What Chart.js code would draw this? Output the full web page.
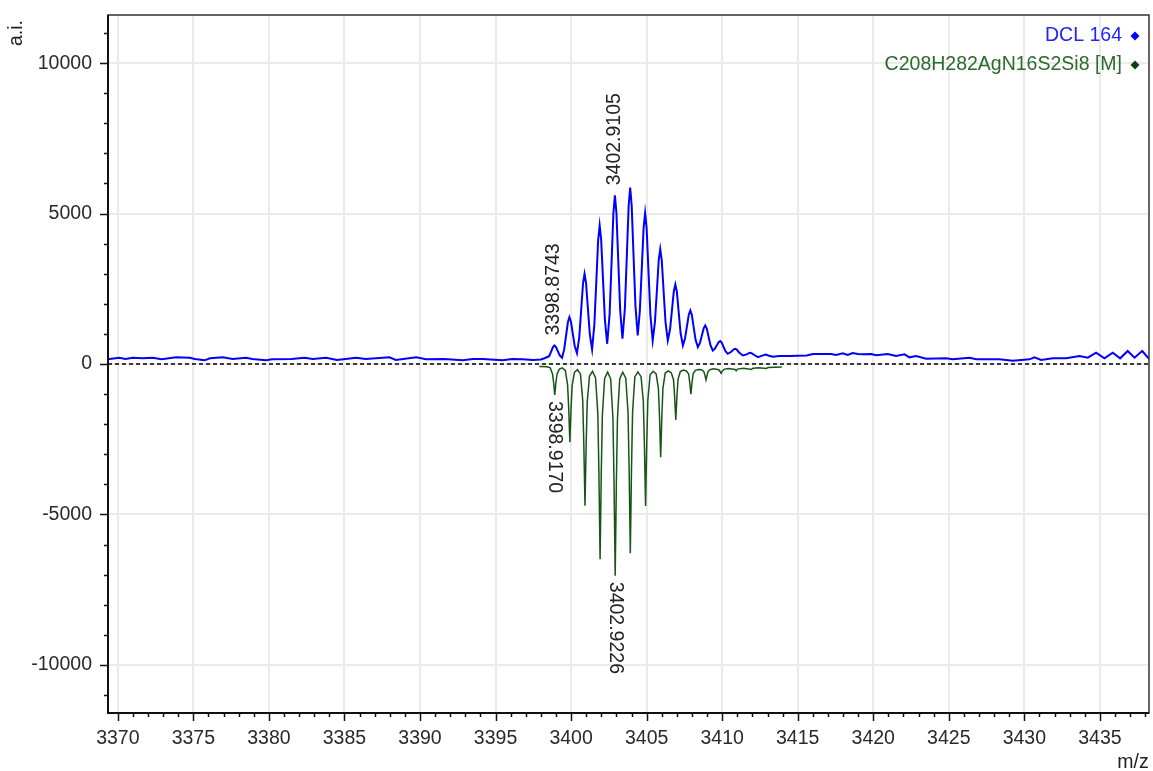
<!DOCTYPE html>
<html>
<head>
<meta charset="utf-8">
<script src="https://cdn.jsdelivr.net/npm/chart.js@4.4.1/dist/chart.umd.min.js"></script>
<style>
  html, body { margin: 0; padding: 0; background: #fff; }
  canvas { display: block; }
</style>
</head>
<body>
<canvas id="msChart" width="1153" height="771"></canvas>
<script>
// Axis ranges and tick labels
const xMin = 3369.35, xMax = 3438.25;
const yMin = -11600, yMax = 11600;
const xTicks = [3370, 3375, 3380, 3385, 3390, 3395, 3400, 3405, 3410, 3415, 3420, 3425, 3430, 3435];
const yTicks = [-10000, -5000, 0, 5000, 10000];

// Measured spectrum (DCL 164)
const blueMz = [
  3369.35, 3369.45, 3370.1, 3370.5, 3371.0, 3371.65, 3372.3, 3372.9, 3373.86, 3374.75,
  3375.1, 3375.74, 3376.1, 3376.95, 3377.6, 3378.5, 3378.9, 3379.82, 3380.2, 3381.5,
  3382.36, 3382.9, 3383.8, 3384.5, 3385.78, 3386.4, 3387.98, 3388.4, 3389.75, 3390.4,
  3391.6, 3392.83, 3393.5, 3394.15, 3395.48, 3396.1, 3396.8, 3397.46, 3398.0, 3398.24,
  3398.55, 3398.68, 3398.80, 3398.90, 3399.00, 3399.12, 3399.25, 3399.40,
  3399.54, 3399.67, 3399.79, 3399.89, 3399.99, 3400.11, 3400.24, 3400.39,
  3400.54, 3400.67, 3400.79, 3400.89, 3400.99, 3401.11, 3401.24, 3401.39,
  3401.54, 3401.67, 3401.79, 3401.89, 3401.99, 3402.11, 3402.24, 3402.39,
  3402.55, 3402.68, 3402.80, 3402.90, 3403.00, 3403.12, 3403.25, 3403.40,
  3403.56, 3403.69, 3403.81, 3403.91, 3404.01, 3404.13, 3404.26, 3404.41,
  3404.55, 3404.68, 3404.80, 3404.90, 3405.00, 3405.12, 3405.25, 3405.40,
  3405.55, 3405.68, 3405.80, 3405.90, 3406.00, 3406.12, 3406.25, 3406.40,
  3406.55, 3406.68, 3406.80, 3406.90, 3407.00, 3407.12, 3407.25, 3407.40,
  3407.54, 3407.67, 3407.79, 3407.89, 3407.99, 3408.11, 3408.24, 3408.39,
  3408.53, 3408.66, 3408.78, 3408.88, 3408.98, 3409.10, 3409.23, 3409.38,
  3409.52, 3409.65, 3409.77, 3409.87, 3409.97, 3410.09, 3410.22, 3410.37,
  3410.60, 3410.77, 3410.87, 3410.97, 3411.12, 3411.37,
  3411.62, 3411.77, 3411.87, 3411.97, 3412.15, 3412.37,
  3412.65, 3412.88, 3413.10, 3413.35,
  3413.8, 3414.45, 3415.6, 3416.0, 3417.21, 3417.54, 3417.98, 3418.31, 3418.64, 3418.97,
  3419.3, 3419.86, 3420.19, 3420.96, 3421.51, 3422.07, 3422.4, 3422.84, 3423.5, 3424.82,
  3425.26, 3426.37, 3426.81, 3428.35, 3429.23, 3430.34, 3430.67, 3431.11, 3431.88, 3432.77,
  3433.65, 3434.2, 3434.75, 3435.3, 3435.85, 3436.34, 3436.84, 3437.29, 3437.8, 3438.28
];
const blueInt = [
  170, 166, 210, 166, 210, 190, 210, 155, 222, 210,
  166, 122, 190, 222, 166, 210, 166, 122, 155, 166,
  210, 166, 210, 133, 210, 166, 222, 133, 222, 155,
  166, 122, 166, 166, 122, 166, 160, 133, 150, 190,
  259, 415, 562, 615, 566, 431, 288, 206,
  476, 949, 1395, 1557, 1413, 1018, 599, 360,
  888, 1812, 2683, 3000, 2698, 1867, 986, 483,
  1308, 2752, 4114, 4609, 4137, 2837, 1459, 672,
  1659, 3386, 5015, 5607, 5035, 3461, 1792, 838,
  1843, 3602, 5261, 5864, 5274, 3652, 1931, 948,
  1762, 3187, 4530, 5018, 4510, 3112, 1629, 782,
  1390, 2453, 3455, 3820, 3455, 2453, 1390, 782,
  1155, 1807, 2422, 2646, 2402, 1732, 1021, 615,
  848, 1256, 1640, 1780, 1634, 1231, 804, 560,
  704, 957, 1194, 1281, 1181, 907, 615, 449,
  511, 620, 722, 759, 709, 570, 423, 339,
  406, 486, 506, 479, 383, 283,
  320, 360, 373, 355, 290, 226,
  280, 316, 275, 240,
  266, 266, 280, 333, 333, 300, 355, 300, 366, 333,
  322, 333, 288, 333, 266, 322, 222, 266, 177, 189,
  155, 210, 155, 155, 111, 155, 222, 133, 189, 189,
  266, 210, 377, 189, 377, 189, 433, 210, 433, 155
];

// Simulated isotope pattern (drawn negative)
const greenMz = [
  3397.90, 3398.42,
  3398.62, 3398.77, 3398.84, 3398.92, 3399.00, 3399.07, 3399.22, 3399.42,
  3399.62, 3399.77, 3399.84, 3399.92, 3400.00, 3400.07, 3400.22, 3400.42,
  3400.62, 3400.77, 3400.84, 3400.92, 3401.00, 3401.07, 3401.22, 3401.42,
  3401.62, 3401.77, 3401.84, 3401.92, 3402.00, 3402.07, 3402.22, 3402.42,
  3402.62, 3402.77, 3402.84, 3402.92, 3403.00, 3403.07, 3403.22, 3403.42,
  3403.62, 3403.77, 3403.84, 3403.92, 3404.00, 3404.07, 3404.22, 3404.42,
  3404.63, 3404.78, 3404.85, 3404.93, 3405.01, 3405.08, 3405.23, 3405.43,
  3405.63, 3405.78, 3405.85, 3405.93, 3406.01, 3406.08, 3406.23, 3406.43,
  3406.63, 3406.78, 3406.85, 3406.93, 3407.01, 3407.08, 3407.23, 3407.43,
  3407.63, 3407.78, 3407.85, 3407.93, 3408.01, 3408.08, 3408.23, 3408.43,
  3408.63, 3408.78, 3408.85, 3408.93, 3409.01, 3409.08, 3409.23, 3409.43,
  3409.78, 3409.85, 3409.93, 3410.01, 3410.15, 3410.43,
  3410.85, 3410.93, 3411.01, 3411.43,
  3411.93, 3412.05, 3412.43,
  3412.93, 3413.05, 3413.50, 3413.95
];
const greenInt = [
  -80, -90,
  -130, -330, -600, -1030, -600, -340, -170, -130,
  -210, -700, -1450, -2600, -1450, -720, -280, -190,
  -330, -1200, -2600, -4710, -2600, -1250, -400, -245,
  -460, -1650, -3550, -6490, -3550, -1700, -480, -270,
  -500, -1800, -3850, -7040, -3850, -1800, -490, -270,
  -470, -1620, -3450, -6290, -3450, -1600, -430, -260,
  -420, -1230, -2600, -4720, -2600, -1200, -360, -240,
  -330, -820, -1720, -3100, -1700, -800, -300, -230,
  -290, -520, -1050, -1860, -1040, -500, -250, -200,
  -230, -330, -600, -1000, -590, -320, -210, -180,
  -190, -250, -360, -530, -350, -240, -180, -160,
  -190, -240, -310, -230, -170, -150,
  -180, -225, -170, -140,
  -180, -140, -125,
  -150, -115, -105, -100
];

// Peak annotations
const blueLabels = ['3398.8743', '3402.9105'];
const blueLabelInt = [615, 5607];
const greenLabels = ['3398.9170', '3402.9226'];
const greenLabelInt = [-1030, -7040];

const FONT = '19.5px "Liberation Sans", Arial, sans-serif';
const legendColors = ['#2323ff', '#2b6a2b'];
const markerColors = ['#0000ff', '#0f3f0f'];

const decor = {
  id: 'decor',
  beforeDatasetsDraw(chart) {
    const { ctx, chartArea: a, scales: { y } } = chart;
    const y0 = y.getPixelForValue(0);
    ctx.save();
    ctx.strokeStyle = '#000';
    ctx.lineWidth = 1.5;
    ctx.setLineDash([4, 3]);
    ctx.beginPath();
    ctx.moveTo(a.left, y0);
    ctx.lineTo(a.right, y0);
    ctx.stroke();
    ctx.restore();
  },
  afterDatasetsDraw(chart) {
    const { ctx, scales: { x, y } } = chart;
    ctx.save();
    ctx.font = FONT;
    ctx.fillStyle = '#222';
    ctx.textAlign = 'left';
    ctx.textBaseline = 'middle';
    blueLabels.forEach((t, i) => {
      ctx.save();
      ctx.translate(x.getPixelForValue(parseFloat(t)), y.getPixelForValue(blueLabelInt[i]) - 10);
      ctx.rotate(-Math.PI / 2);
      ctx.fillText(t, 0, 0);
      ctx.restore();
    });
    greenLabels.forEach((t, i) => {
      ctx.save();
      ctx.translate(x.getPixelForValue(parseFloat(t)), y.getPixelForValue(greenLabelInt[i]) + 6);
      ctx.rotate(Math.PI / 2);
      ctx.fillText(t, 0, 0);
      ctx.restore();
    });
    ctx.restore();
  },
  afterDraw(chart) {
    const { ctx, chartArea: a, scales: { x, y } } = chart;
    ctx.save();
    // frame
    ctx.strokeStyle = '#333';
    ctx.lineWidth = 1.5;
    ctx.strokeRect(a.left, a.top, a.right - a.left, a.bottom - a.top);
    ctx.strokeStyle = '#111';
    ctx.lineWidth = 2;
    ctx.beginPath();
    ctx.moveTo(a.left, a.top);
    ctx.lineTo(a.left, a.bottom);
    ctx.lineTo(a.right, a.bottom);
    ctx.stroke();
    // major + minor ticks
    ctx.lineWidth = 1.5;
    ctx.beginPath();
    for (let v = 3370; v <= xMax; v++) {
      const px = Math.round(x.getPixelForValue(v)) + 0.5;
      const len = v % 5 === 0 ? 8 : 4;
      ctx.moveTo(px, a.bottom);
      ctx.lineTo(px, a.bottom + len);
    }
    for (let v = -11000; v <= 11000; v += 1000) {
      const py = Math.round(y.getPixelForValue(v)) + 0.5;
      const len = v % 5000 === 0 ? 8 : 4;
      ctx.moveTo(a.left - len, py);
      ctx.lineTo(a.left, py);
    }
    ctx.stroke();
    // legend
    ctx.font = FONT;
    ctx.textAlign = 'right';
    ctx.textBaseline = 'middle';
    chart.data.datasets.forEach((ds, i) => {
      const ly = a.top + 21 + i * 29;
      ctx.fillStyle = legendColors[i];
      ctx.fillText(ds.label, a.right - 27, ly);
      const mx = a.right - 14;
      ctx.fillStyle = markerColors[i];
      ctx.beginPath();
      ctx.moveTo(mx, ly - 4.5);
      ctx.lineTo(mx + 4.5, ly);
      ctx.lineTo(mx, ly + 4.5);
      ctx.lineTo(mx - 4.5, ly);
      ctx.closePath();
      ctx.fill();
    });
    // axis titles
    ctx.fillStyle = '#222';
    ctx.textAlign = 'center';
    ctx.fillText('m/z', a.right - 16, a.bottom + 50);
    ctx.translate(17, a.top + 18);
    ctx.rotate(-Math.PI / 2);
    ctx.fillText('a.i.', 0, 0);
    ctx.restore();
  }
};

const ctx = document.getElementById('msChart');
const msChart = new Chart(ctx, {
  type: 'line',
  data: {
    datasets: [
      {
        label: 'DCL 164',
        data: blueMz.map((m, i) => ({ x: m, y: blueInt[i] })),
        borderColor: '#0000ff',
        borderWidth: 2,
        pointRadius: 0,
        tension: 0
      },
      {
        label: 'C208H282AgN16S2Si8 [M]',
        data: greenMz.map((m, i) => ({ x: m, y: greenInt[i] })),
        borderColor: '#175517',
        borderWidth: 1.5,
        pointRadius: 0,
        tension: 0
      }
    ]
  },
  options: {
    responsive: false,
    animation: false,
    devicePixelRatio: 1,
    layout: { padding: { top: 15, right: 4, left: 0, bottom: 0 } },
    plugins: { legend: { display: false }, tooltip: { enabled: false } },
    scales: {
      x: {
        type: 'linear',
        min: xMin,
        max: xMax,
        afterBuildTicks: s => { s.ticks = xTicks.map(v => ({ value: v })); },
        afterFit: s => { s.height = 58; s.paddingLeft = 0; s.paddingRight = 0; },
        grid: { color: '#ebebeb', lineWidth: 2, drawTicks: false },
        border: { display: false },
        ticks: {
          padding: 14,
          font: { family: '"Liberation Sans", Arial, sans-serif', size: 19.5 },
          color: '#2a2a2a',
          maxRotation: 0,
          autoSkip: false,
          callback: v => String(v)
        }
      },
      y: {
        type: 'linear',
        min: yMin,
        max: yMax,
        afterBuildTicks: s => { s.ticks = yTicks.map(v => ({ value: v })); },
        afterFit: s => { s.width = 108; s.paddingTop = 0; s.paddingBottom = 0; },
        grid: { color: '#ebebeb', lineWidth: 2, drawTicks: false },
        border: { display: false },
        ticks: {
          padding: 16,
          font: { family: '"Liberation Sans", Arial, sans-serif', size: 19.5 },
          color: '#2a2a2a',
          autoSkip: false,
          callback: v => String(v)
        }
      }
    }
  },
  plugins: [decor]
});
</script>
</body>
</html>
